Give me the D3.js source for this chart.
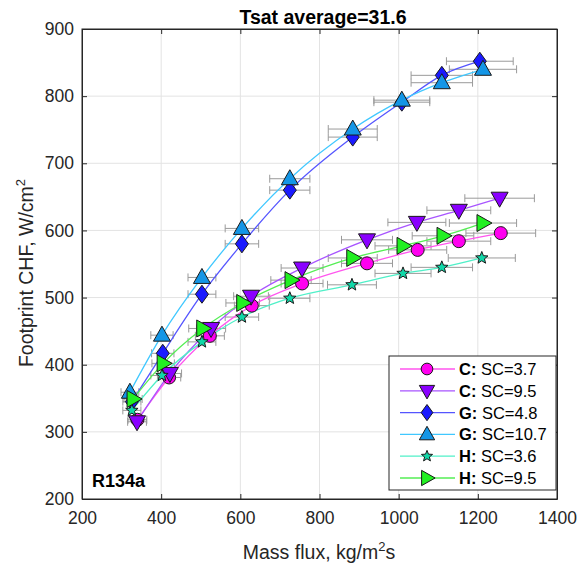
<!DOCTYPE html>
<html><head><meta charset="utf-8">
<script src="https://cdn.jsdelivr.net/npm/d3@7"></script>
<style>body{margin:0;background:#fff;} text{font-family:"Liberation Sans",Arial,sans-serif;}</style>
</head><body><svg id="c" width="588" height="568"></svg>
<script>
const title = "Tsat average=31.6";
const xTicks = [200,400,600,800,1000,1200,1400];
const yTicks = [200,300,400,500,600,700,800,900];
const cSC37_x = [340,420,523,629,756,920,1048,1152,1258];
const cSC37_y = [318,381,443,488,521,551,571,584,596];
const cSC95_x = [339,422,526,627,756,920,1046,1152,1255];
const cSC95_y = [315,387,454,502,544,586,612,630,648];
const gSC48_x = [326,404,503,604,725,884,1008,1109,1205];
const gSC48_y = [345,417,505,580,660,739,791,831,852];
const gSC107_x = [321,402,503,604,725,884,1008,1109,1213];
const gSC107_y = [359,444,530,603,677,751,794,820,840];
const hSC36_x = [326,402,503,604,725,882,1011,1109,1210];
const hSC36_y = [332,384,434,471,499,519,536,545,559];
const hSC95_x = [329,405,505,606,728,884,1011,1112,1213];
const hSC95_y = [349,402,454,492,526,559,577,592,611];
const xErrFrac = 0.07;

const series = [
 {grp:"C:", lab:" SC=3.7", xs:cSC37_x, ys:cSC37_y, fill:"#ff00f0", line:"#ff55ee", sym:"circle"},
 {grp:"C:", lab:" SC=9.5", xs:cSC95_x, ys:cSC95_y, fill:"#8a00ff", line:"#a855ff", sym:"down"},
 {grp:"G:", lab:" SC=4.8", xs:gSC48_x, ys:gSC48_y, fill:"#1a1aff", line:"#5555ff", sym:"diamond"},
 {grp:"G:", lab:" SC=10.7", xs:gSC107_x, ys:gSC107_y, fill:"#1496e6", line:"#40c8ff", sym:"up"},
 {grp:"H:", lab:" SC=3.6", xs:hSC36_x, ys:hSC36_y, fill:"#10d8a8", line:"#50f0c8", sym:"star"},
 {grp:"H:", lab:" SC=9.5", xs:hSC95_x, ys:hSC95_y, fill:"#22f022", line:"#55ee55", sym:"right"}
];

const L=82,R=557,T=29,B=499;
const svg=d3.select("#c");
const x=d3.scaleLinear().domain([200,1400]).range([L,R]);
const y=d3.scaleLinear().domain([200,900]).range([B,T]);

svg.append("g").selectAll("line").data(xTicks.slice(1,-1)).join("line")
 .attr("x1",d=>x(d)).attr("x2",d=>x(d)).attr("y1",T).attr("y2",B).attr("stroke","#e3e3e3");
svg.append("g").selectAll("line").data(yTicks.slice(1,-1)).join("line")
 .attr("y1",d=>y(d)).attr("y2",d=>y(d)).attr("x1",L).attr("x2",R).attr("stroke","#e3e3e3");

const fmt=d3.format("d");
const ax=d3.axisBottom(x).tickValues(xTicks).tickFormat(fmt).tickSizeInner(-5).tickSizeOuter(0).tickPadding(13);
const ay=d3.axisLeft(y).tickValues(yTicks).tickFormat(fmt).tickSizeInner(-5).tickSizeOuter(0).tickPadding(8);
const gx=svg.append("g").attr("transform",`translate(0,${B})`).call(ax);
const gy=svg.append("g").attr("transform",`translate(${L},0)`).call(ay);
const gx2=svg.append("g").attr("transform",`translate(0,${T})`).call(d3.axisTop(x).tickValues(xTicks).tickSizeInner(-5).tickSizeOuter(0).tickFormat(""));
const gy2=svg.append("g").attr("transform",`translate(${R},0)`).call(d3.axisRight(y).tickValues(yTicks).tickSizeInner(-5).tickSizeOuter(0).tickFormat(""));
[gx,gy,gx2,gy2].forEach(g=>{g.select(".domain").attr("stroke","#262626");g.selectAll(".tick line").attr("stroke","#262626");
 g.selectAll("text").attr("fill","#262626").style("font-size","17.5px").style("font-family","Liberation Sans, Arial, sans-serif");});

svg.append("clipPath").attr("id","cp").append("rect").attr("x",L).attr("y",T).attr("width",R-L).attr("height",B-T);
const plot=svg.append("g").attr("clip-path","url(#cp)");

series.forEach(s=>{
 const g=plot.append("g");
 s.xs.forEach((xv,i)=>{
  const e=xv*xErrFrac, yy=y(s.ys[i]);
  g.append("line").attr("x1",x(xv-e)).attr("x2",x(xv+e)).attr("y1",yy).attr("y2",yy).attr("stroke","#9a9a9a").attr("stroke-width",1);
  [xv-e,xv+e].forEach(v=>g.append("line").attr("x1",x(v)).attr("x2",x(v)).attr("y1",yy-4).attr("y2",yy+4).attr("stroke","#9a9a9a"));
 });
});
const lineGen=d3.line().x(d=>x(d[0])).y(d=>y(d[1])).curve(d3.curveMonotoneX);
series.forEach(s=>{
 plot.append("path").attr("d",lineGen(s.xs.map((v,i)=>[v,s.ys[i]]))).attr("fill","none").attr("stroke",s.line).attr("stroke-width",1.3);
});
function sym(g,type,cx,cy,fill,k){
 k=k||1;
 let p;
 if(type==="circle") p=g.append("circle").attr("cx",cx).attr("cy",cy).attr("r",6.5*k);
 else {
  let pts;
  if(type==="up") pts=[[0,-9],[8.5,6],[-8.5,6]];
  else if(type==="down") pts=[[0,9],[8.5,-6],[-8.5,-6]];
  else if(type==="right") pts=[[9,0],[-6,8.5],[-6,-8.5]];
  else if(type==="diamond") pts=[[0,-9],[6.5,0],[0,9],[-6.5,0]];
  else if(type==="star"){pts=[];for(let j=0;j<10;j++){const a=-Math.PI/2+j*Math.PI/5,r=j%2?2.8:6.5;pts.push([r*Math.cos(a),r*Math.sin(a)]);}}
  p=g.append("polygon").attr("points",pts.map(q=>[cx+q[0]*k,cy+q[1]*k].join(",")).join(" "));
 }
 p.attr("fill",fill).attr("stroke","#1a1a1a").attr("stroke-width",1);
}
series.forEach(s=>{const g=plot.append("g");s.xs.forEach((v,i)=>sym(g,s.sym,x(v),y(s.ys[i]),s.fill));});

svg.append("rect").attr("x",L).attr("y",T).attr("width",R-L).attr("height",B-T).attr("fill","none").attr("stroke","#262626");

const lg=svg.append("g");
lg.append("rect").attr("x",389).attr("y",356).attr("width",167).attr("height",134).attr("fill","#fff").attr("stroke","#262626");
series.forEach((s,i)=>{
 const yy=369+i*21.8;
 lg.append("line").attr("x1",400).attr("x2",455).attr("y1",yy).attr("y2",yy).attr("stroke",s.line).attr("stroke-width",1.3);
 sym(lg,s.sym,427,yy,s.fill,0.9);
 const t=lg.append("text").attr("x",459).attr("y",yy+6).style("font-size","16.5px").attr("fill","#000");
 t.append("tspan").attr("font-weight","bold").text(s.grp);
 t.append("tspan").text(s.lab);
});

svg.append("text").attr("x",323).attr("y",24).attr("text-anchor","middle").style("font-size","19.5px").attr("font-weight","bold").attr("fill","#000").text(title);
svg.append("text").attr("x",92).attr("y",487).style("font-size","18px").attr("font-weight","bold").attr("fill","#000").text("R134a");
const xl=svg.append("text").attr("x",319).attr("y",559).attr("text-anchor","middle").style("font-size","19.5px").attr("fill","#262626");
xl.append("tspan").text("Mass flux, kg/m");xl.append("tspan").attr("dy",-8).style("font-size","13px").text("2");xl.append("tspan").attr("dy",8).text("s");
const yl=svg.append("text").attr("transform","translate(33,273) rotate(-90)").attr("text-anchor","middle").style("font-size","19.5px").attr("fill","#262626");
yl.append("tspan").text("Footprint CHF, W/cm");yl.append("tspan").attr("dy",-8).style("font-size","13px").text("2");
</script></body></html>
